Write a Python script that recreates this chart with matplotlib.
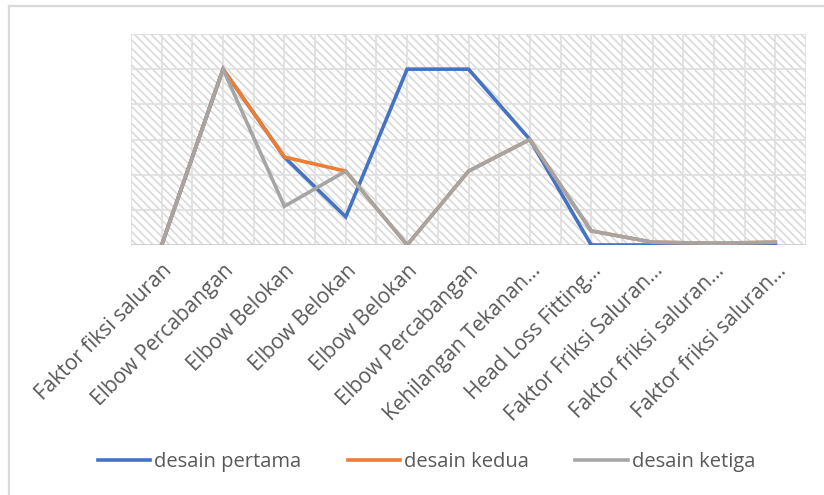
import numpy as np
import matplotlib
matplotlib.use("Agg")
import matplotlib.pyplot as plt
from matplotlib.patches import Rectangle
from matplotlib.lines import Line2D

plt.rcParams['font.family'] = ['Open Sans', 'DejaVu Sans']
plt.rcParams['hatch.linewidth'] = 1.2

# categories on the x axis (labels as shown, truncated ones keep the ellipsis)
categories = ["Faktor fiksi saluran", "Elbow Percabangan", "Elbow Belokan", "Elbow Belokan",
              "Elbow Belokan", "Elbow Percabangan", "Kehilangan Tekanan…", "Head Loss Fitting…",
              "Faktor Friksi Saluran…", "Faktor friksi saluran…", "Faktor friksi saluran…"]

# series values (arbitrary units, axis has no labels)
pertama = [0, 5.0, 2.5, 0.8, 5.0, 5.0, 3.0, 0, 0, 0, 0.02]
kedua = [0, 5.0, 2.5, 2.1, 0, 2.1, 3.0, 0.4, 0.08, 0.05, 0.08]
ketiga = [0, 5.0, 1.1, 2.1, 0, 2.1, 3.0, 0.4, 0.08, 0.05, 0.08]

fig = plt.figure(figsize=(8.24, 4.95), dpi=100)
ax = fig.add_axes([131/824, 1-245/495, (806-131)/824, (245-34)/495])

x = np.arange(len(categories))
ax.set_xlim(-0.5, len(categories) - 0.5)
ax.set_ylim(0, 6)

# hatched pattern background + grid
ax.add_patch(Rectangle((0, 0), 1, 1, transform=ax.transAxes, facecolor='white',
                       edgecolor='#DADADA', lw=0, hatch='\\\\\\\\', zorder=0))
for xv in np.arange(-0.5, len(categories), 0.5):
    ax.axvline(xv, color='#E0E0E0', lw=1.3, zorder=1)
for yv in range(0, 7):
    ax.axhline(yv, color='#E0E0E0', lw=1.3, zorder=1)

ax.plot(x, pertama, color='#4472C4', lw=2.6, label='desain pertama', zorder=3, solid_joinstyle='miter')
ax.plot(x, kedua, color='#ED7D31', lw=2.6, label='desain kedua', zorder=4, solid_joinstyle='miter')
ax.plot(x, ketiga, color='#A5A5A5', lw=2.6, label='desain ketiga', zorder=5, solid_joinstyle='miter')

for s in ax.spines.values():
    s.set_visible(False)
ax.axhline(0, color='#D0D0D0', lw=1.3, zorder=2)

ax.set_yticks([])
ax.set_xticks(x)
ax.set_xticklabels(categories, rotation=45, ha='right', va='top', rotation_mode='anchor',
                   fontsize=15, color='#595959')
ax.tick_params(axis='x', length=0, pad=11)

fig.legend(loc='center', bbox_to_anchor=(0.5176, 1-462/495), ncol=3, frameon=False,
           fontsize=14.5, labelcolor='#595959', handlelength=2.6, handletextpad=0.2,
           columnspacing=2.3)

# chart frame (left and top edges visible)
fig.add_artist(Line2D([8.5/824, 8.5/824], [0, 1-5.5/495], transform=fig.transFigure,
                      color='#D9D9D9', lw=1.6))
fig.add_artist(Line2D([8.5/824, 1], [1-5.5/495, 1-5.5/495], transform=fig.transFigure,
                      color='#D9D9D9', lw=1.6))

fig.savefig('out.png', dpi=100)
